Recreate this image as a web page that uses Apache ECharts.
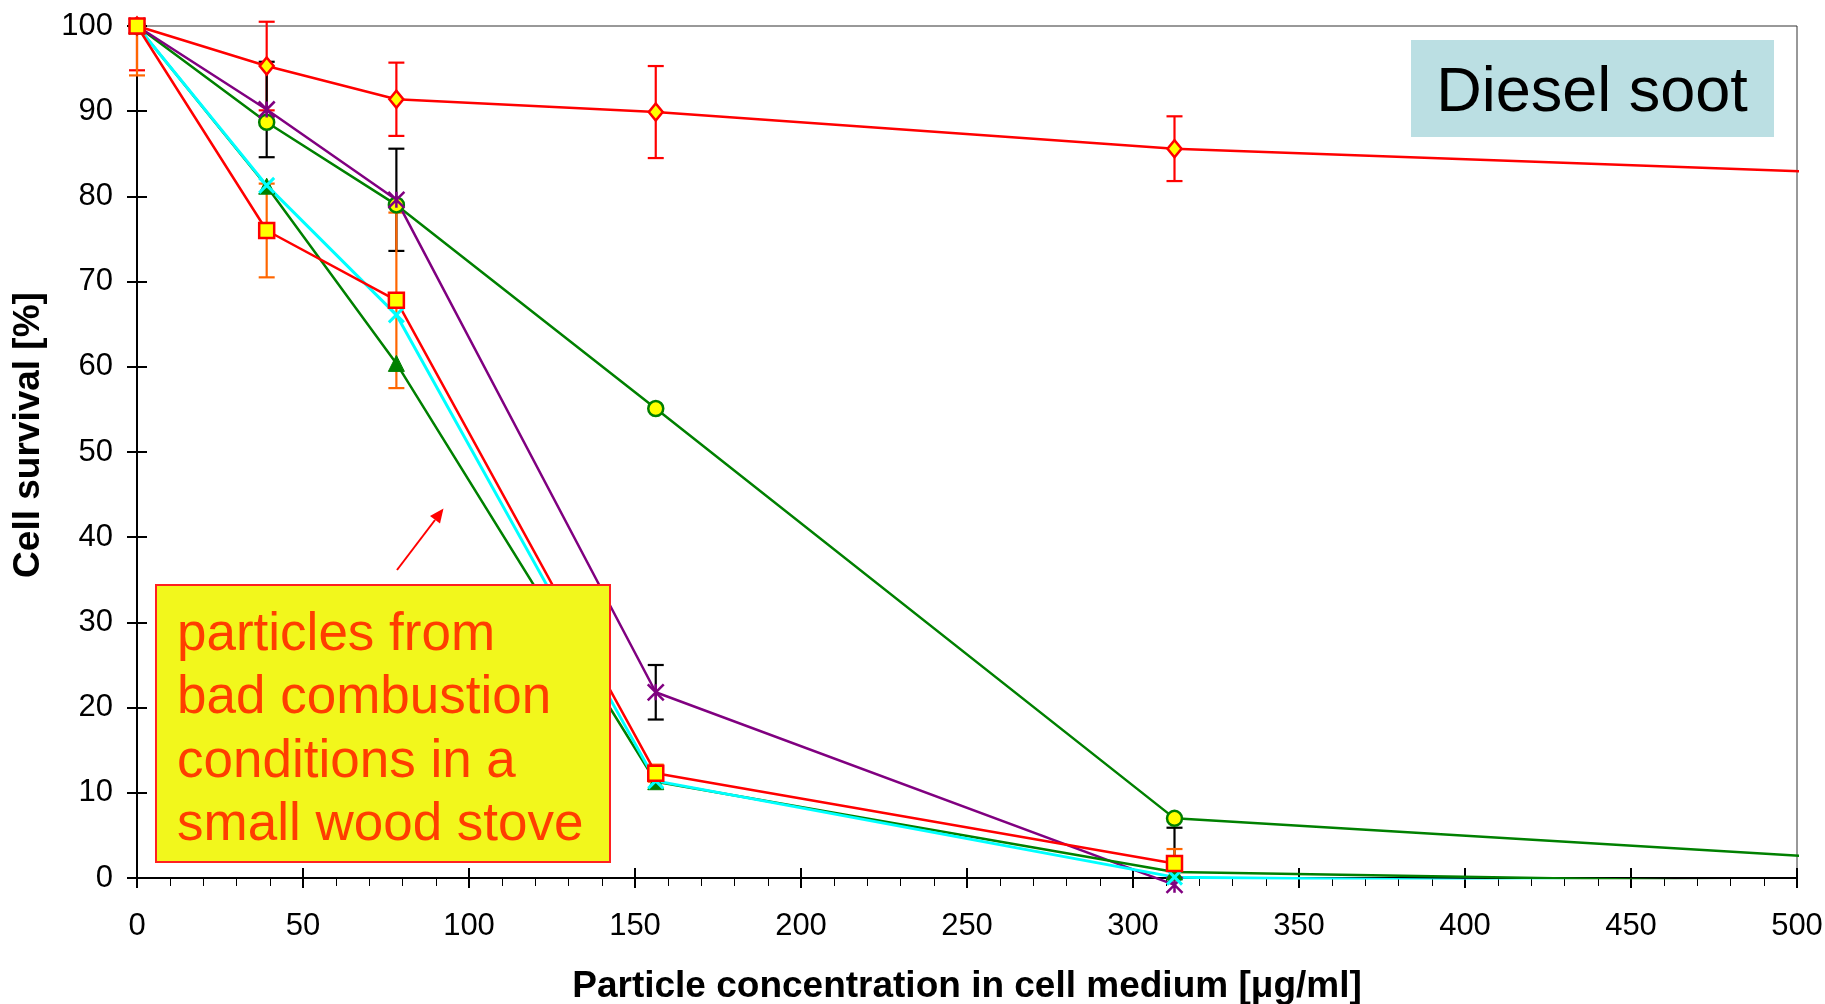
<!DOCTYPE html>
<html>
<head>
<meta charset="utf-8">
<script src="https://cdn.jsdelivr.net/npm/echarts@6/dist/echarts.min.js"></script>
<style>
  html, body { margin: 0; padding: 0; background: #ffffff; }
  #chart { width: 1825px; height: 1004px; }
</style>
</head>
<body>
<div id="chart"></div>
<script>
// Particle concentrations [µg/ml] (two-fold dilution steps)
const concentration = [0, 39.0625, 78.125, 156.25, 312.5, 625];

// Cell survival [%] per particle sample
const dieselSoot      = [100, 95.3, 91.4, 89.9, 85.6, 81.2];
const dieselSootErr   = [5.2, 5.2, 4.3, 5.4, 3.8, 0];
const woodAsterisk    = [100, 90.2, 79.6, 21.8, -0.8];
const woodAsteriskErr = [0, 5.6, 6.0, 3.2, 6.7];
const woodCircle      = [100, 88.7, 79.0, 55.1, 7.0, -0.3];
const woodTriangle    = [100, 81.2, 60.4, 11.3, 0.7, -1.3];
const woodCross       = [100, 81.3, 66.1, 11.4, 0.1, -1.2];
const woodSquare      = [100, 76.0, 67.8, 12.3, 1.7];
const woodSquareErr   = [5.8, 5.5, 10.3, 1.0, 1.7];

// Axis ticks
const xTicks = { min: 0, max: 500, interval: 50 };
const yTicks = { min: 0, max: 100, interval: 10 };

const FONT = "'Liberation Sans', Arial, sans-serif";

function pairs(values) {
  return values.map((v, i) => [concentration[i], v]);
}
function errorRanges(values, errs) {
  const out = [];
  values.forEach((v, i) => {
    if (errs[i] > 0) out.push([concentration[i], v - errs[i], v + errs[i]]);
  });
  return out;
}
// Vertical error bar with caps; ends running past the value range are cut
// (a little headroom is allowed above the top) and lose their cap.
function errorBarRenderer(color) {
  const topLimit = yTicks.max + 0.6;
  const bottomLimit = yTicks.min;
  return function (params, api) {
    const x = api.value(0);
    const loVal = api.value(1);
    const hiVal = api.value(2);
    const loCut = loVal < bottomLimit;
    const hiCut = hiVal > topLimit;
    const lo = api.coord([x, loCut ? bottomLimit : loVal]);
    const hi = api.coord([x, hiCut ? topLimit : hiVal]);
    const hw = 8;
    const style = { stroke: color, lineWidth: 2.2 };
    const children = [
      { type: 'line', shape: { x1: lo[0], y1: lo[1], x2: hi[0], y2: hi[1] }, style }
    ];
    if (!loCut) children.push({ type: 'line', shape: { x1: lo[0] - hw, y1: lo[1], x2: lo[0] + hw, y2: lo[1] }, style });
    if (!hiCut) children.push({ type: 'line', shape: { x1: hi[0] - hw, y1: hi[1], x2: hi[0] + hw, y2: hi[1] }, style });
    return { type: 'group', children };
  };
}
function errorSeries(values, errs, color) {
  return {
    type: 'custom',
    clip: false,
    z: 1,
    silent: true,
    renderItem: errorBarRenderer(color),
    encode: { x: 0, y: [1, 2] },
    data: errorRanges(values, errs)
  };
}

const RED = '#ff0000';
const PURPLE = '#800080';
const GREEN = '#008000';
const CYAN = '#00ffff';
const YELLOW = '#ffff00';

const chart = echarts.init(document.getElementById('chart'), null, { renderer: 'canvas' });

const axisLabelStyle = { color: '#000', fontFamily: FONT, fontSize: 31 };

chart.setOption({
  animation: false,
  backgroundColor: '#ffffff',
  grid: {
    left: 137, right: 28, top: 26, bottom: 126,
    containLabel: false, outerBoundsMode: 'none',
    show: true, borderColor: '#333333', borderWidth: 1, backgroundColor: 'transparent'
  },
  xAxis: [
    {
      type: 'value', min: xTicks.min, max: xTicks.max, interval: xTicks.interval,
      splitLine: { show: false },
      axisLine: { show: true, onZero: false, lineStyle: { color: '#000', width: 2 } },
      axisTick: { show: true, inside: false, length: 10, lineStyle: { color: '#000', width: 2 } },
      minorTick: { show: true, splitNumber: 5, length: 8, lineStyle: { color: '#000', width: 1 } },
      axisLabel: Object.assign({ margin: 33 }, axisLabelStyle),
      name: 'Particle concentration in cell medium [μg/ml]',
      nameLocation: 'middle', nameGap: 90,
      nameTextStyle: { color: '#000', fontFamily: FONT, fontSize: 37, fontWeight: 'bold' }
    },
    {
      type: 'value', min: xTicks.min, max: xTicks.max, interval: xTicks.interval,
      position: 'bottom',
      splitLine: { show: false },
      axisLine: { show: false, onZero: false },
      axisTick: { show: true, inside: true, length: 10, lineStyle: { color: '#000', width: 2 } },
      axisLabel: { show: false }
    }
  ],
  yAxis: [
    {
      type: 'value', min: yTicks.min, max: yTicks.max, interval: yTicks.interval,
      splitLine: { show: false },
      axisLine: { show: true, onZero: false, lineStyle: { color: '#000', width: 2 } },
      axisTick: { show: true, inside: false, length: 10, lineStyle: { color: '#000', width: 2 } },
      axisLabel: Object.assign({ margin: 24 }, axisLabelStyle)
    },
    {
      type: 'value', min: yTicks.min, max: yTicks.max, interval: yTicks.interval,
      position: 'left',
      splitLine: { show: false },
      axisLine: { show: false, onZero: false },
      axisTick: { show: true, inside: true, length: 10, lineStyle: { color: '#000', width: 2 } },
      axisLabel: { show: false }
    }
  ],
  series: [
    errorSeries(dieselSoot, dieselSootErr, RED),
    errorSeries(woodAsterisk, woodAsteriskErr, '#000000'),
    errorSeries(woodSquare, woodSquareErr, '#ff6600'),
    {
      name: 'woodCircle', type: 'line', z: 3, clip: true,
      data: pairs(woodCircle),
      lineStyle: { color: GREEN, width: 2.5 },
      symbol: 'circle', symbolSize: 15,
      itemStyle: { color: YELLOW, borderColor: GREEN, borderWidth: 2.5 }
    },
    {
      name: 'woodAsterisk', type: 'line', z: 3, clip: false,
      data: pairs(woodAsterisk),
      lineStyle: { color: PURPLE, width: 2.5 },
      symbol: 'path://M0,0L10,10M10,0L0,10M5,0L5,10', symbolSize: 16,
      itemStyle: { color: 'rgba(0,0,0,0)', borderColor: PURPLE, borderWidth: 2.5 }
    },
    {
      name: 'dieselSoot', type: 'line', z: 3, clip: true,
      data: pairs(dieselSoot),
      lineStyle: { color: RED, width: 2.5 },
      symbol: 'diamond', symbolSize: [14, 17],
      itemStyle: { color: YELLOW, borderColor: RED, borderWidth: 2.5 }
    },
    {
      name: 'woodTriangle', type: 'line', z: 3, clip: true,
      data: pairs(woodTriangle),
      lineStyle: { color: GREEN, width: 2.5 },
      symbol: 'triangle', symbolSize: 16,
      itemStyle: { color: GREEN, borderColor: GREEN, borderWidth: 1 }
    },
    {
      name: 'woodCross', type: 'line', z: 3, clip: true,
      data: pairs(woodCross),
      lineStyle: { color: CYAN, width: 3 },
      symbol: 'path://M0,0L10,10M10,0L0,10', symbolSize: 15,
      itemStyle: { color: 'rgba(0,0,0,0)', borderColor: CYAN, borderWidth: 3 }
    },
    {
      name: 'woodSquare', type: 'line', z: 3, clip: true,
      data: pairs(woodSquare),
      lineStyle: { color: RED, width: 2.5 },
      symbol: 'rect', symbolSize: 15,
      itemStyle: { color: YELLOW, borderColor: RED, borderWidth: 2.5 }
    }
  ],
  graphic: [
    {
      type: 'text', z: 10,
      x: 29, y: 435, rotation: Math.PI / 2,
      style: {
        text: 'Cell survival [%]', fill: '#000',
        font: 'bold 37px ' + FONT, align: 'center', verticalAlign: 'middle'
      }
    },
    {
      type: 'rect', z: 10,
      shape: { x: 1411, y: 40, width: 363, height: 97 },
      style: { fill: '#bbdfe3' }
    },
    {
      type: 'text', z: 11,
      x: 1592, y: 94,
      style: {
        text: 'Diesel soot', fill: '#000',
        font: '63px ' + FONT, align: 'center', verticalAlign: 'middle'
      }
    },
    {
      type: 'line', z: 10,
      shape: { x1: 397, y1: 570, x2: 435, y2: 520 },
      style: { stroke: '#ff0000', lineWidth: 2 }
    },
    {
      type: 'polygon', z: 10,
      shape: { points: [[443.5, 508.5], [440, 523.5], [430, 516]] },
      style: { fill: '#ff0000' }
    },
    {
      type: 'rect', z: 10,
      shape: { x: 156, y: 585, width: 454, height: 277 },
      style: { fill: '#f2f71c', stroke: '#ff2020', lineWidth: 2 }
    },
    {
      type: 'group', z: 11,
      children: ['particles from', 'bad combustion', 'conditions in a', 'small wood stove'].map((t, i) => ({
        type: 'text', z: 11,
        x: 177, y: 635 + i * 63.5,
        style: { text: t, fill: '#ff3d00', font: '53px ' + FONT, align: 'left', verticalAlign: 'middle' }
      }))
    }
  ]
});
</script>
</body>
</html>
